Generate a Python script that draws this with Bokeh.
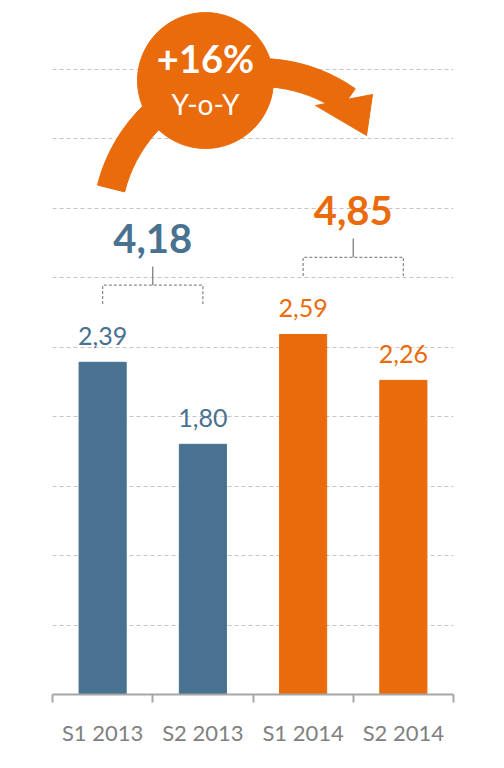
from bokeh.plotting import figure
from bokeh.models import Range1d, FixedTicker
from bokeh.embed import file_html
from bokeh.resources import INLINE
from bokeh.core.properties import value

# ---- data ----
categories = ["S1 2013", "S2 2013", "S1 2014", "S2 2014"]
values = [2.39, 1.80, 2.59, 2.26]
bar_labels = ["2,39", "1,80", "2,59", "2,26"]
totals = ["4,18", "4,85"]
growth_text = "+16%"
growth_sub = "Y-o-Y"

BLUE = "#48728f"
ORANGE = "#ea6b0b"
GREY = "#a6a6a6"
bar_colors = [BLUE, BLUE, ORANGE, ORANGE]
total_colors = [BLUE, ORANGE]
FONT = "Lato"

xs = [i + 0.5 for i in range(len(categories))]

# pixel scale of the frame (used only for the decorative arrow)
PX_X = 401 / 4.0
PX_Y = 139.0

p = figure(width=496, height=756, x_range=Range1d(0, 4), y_range=Range1d(0, 688 / PX_Y),
           output_backend="svg", toolbar_location=None,
           min_border_left=52, min_border_right=43, min_border_top=6, min_border_bottom=62)
p.outline_line_color = None
p.background_fill_color = "white"
p.yaxis.visible = False
p.xgrid.visible = False
p.ygrid.ticker = FixedTicker(ticks=[0.5, 1.0, 1.5, 2.0, 2.5, 3.0, 3.5, 4.0, 4.5])
p.ygrid.grid_line_color = "#c4c4c4"
p.ygrid.grid_line_dash = "4 3"
p.ygrid.grid_line_width = 1.2

ax = p.xaxis[0]
ax.ticker = FixedTicker(ticks=xs, minor_ticks=[0, 1, 2, 3, 4])
ax.major_label_overrides = {x: c for x, c in zip(xs, categories)}
ax.major_tick_line_color = None
ax.major_tick_out = 8
ax.major_tick_in = 0
ax.minor_tick_out = 8
ax.minor_tick_in = 0
ax.minor_tick_line_color = GREY
ax.minor_tick_line_width = 2
ax.axis_line_color = GREY
ax.axis_line_width = 2
ax.major_label_text_font = FONT
ax.major_label_text_font_size = "22px"
ax.major_label_text_color = "#808080"
ax.major_label_standoff = 16

# bars
p.vbar(x=xs, top=values, width=0.47, color=bar_colors)
p.text(x=xs, y=[v + 0.19 for v in values], text=bar_labels, text_color=bar_colors,
       text_align="center", text_baseline="middle",
       text_font=value(FONT), text_font_size="25px")

# brackets with totals
for g in range(2):
    x0, x1 = xs[2 * g], xs[2 * g + 1]
    top = max(values[2 * g:2 * g + 2])
    legs = top + 0.42
    horiz = legs + 0.135
    stem = horiz + 0.135
    p.line(x=[x0, x0, x1, x1], y=[legs, horiz, horiz, legs], line_color="#8c8c8c",
           line_dash="3 2", line_width=1.3)
    p.segment(x0=[(x0 + x1) / 2], y0=[horiz], x1=[(x0 + x1) / 2], y1=[stem],
              line_color="#7f7f7f", line_width=1.3)
    p.text(x=[(x0 + x1) / 2], y=[stem + 0.2], text=[totals[g]], text_color=total_colors[g],
           text_align="center", text_baseline="middle", text_font=value(FONT),
           text_font_style="bold", text_font_size="40px")

# decorative curved arrow
acx, acy = 2.065, 3.374
p.annular_wedge(x=[acx], y=[acy], inner_radius=139, outer_radius=167,
                inner_radius_units="screen", outer_radius_units="screen",
                start_angle=55, end_angle=166, start_angle_units="deg", end_angle_units="deg",
                color=ORANGE)
head = [(56, 120), (113, 131), (107, 90)]
p.patch(x=[acx + dx / PX_X for dx, dy in head], y=[acy + dy / PX_Y for dx, dy in head],
        color=ORANGE)
ccx, ccy = 1.526, 4.417
p.scatter(x=[ccx], y=[ccy], size=136, marker="circle", color=ORANGE)
p.text(x=[ccx], y=[ccy + 0.16], text=[growth_text], text_color="white", text_align="center",
       text_baseline="middle", text_font=value(FONT), text_font_style="bold",
       text_font_size="38px")
p.text(x=[ccx], y=[ccy - 0.17], text=[growth_sub], text_color="white", text_align="center",
       text_baseline="middle", text_font=value(FONT), text_font_size="28px")

open("out.html", "w").write(file_html(p, INLINE))
